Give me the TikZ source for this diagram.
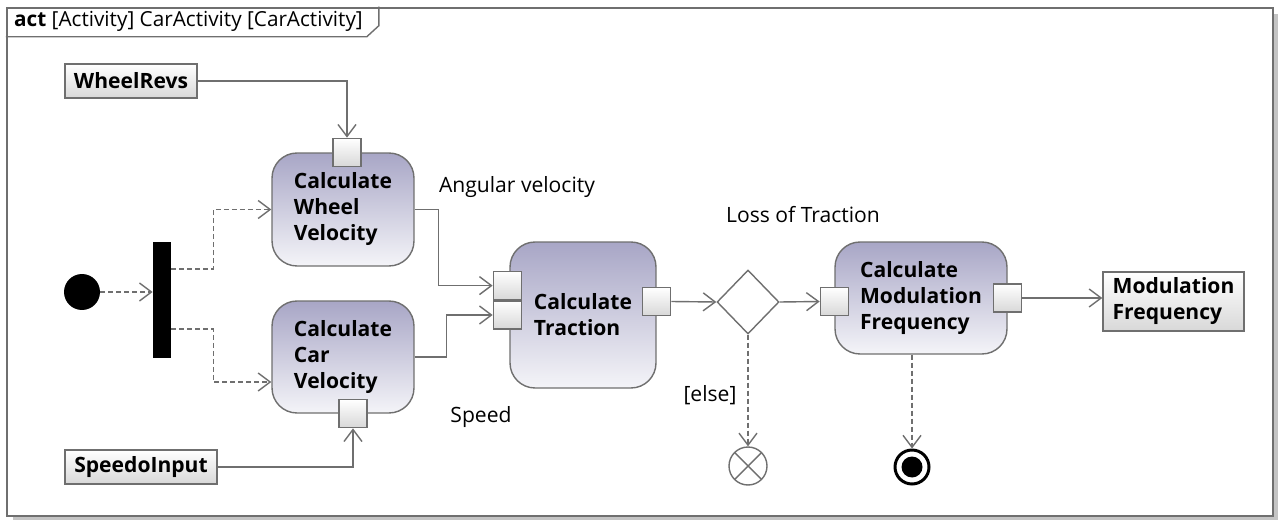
\documentclass[tikz,border=0pt]{standalone}
\usepackage{fontspec}
\setmainfont{Open Sans}
\usetikzlibrary{positioning, arrows.meta, shapes.geometric, calc}

\definecolor{linegray}{HTML}{6F6F6F}
\definecolor{acttop}{HTML}{A8A6C6}
\definecolor{actbot}{HTML}{F4F4F8}
\definecolor{pinbot}{HTML}{D8D8D8}
\definecolor{shadowgray}{HTML}{C4C4C4}

\begin{document}
\begin{tikzpicture}[
  x=0.02cm, y=-0.02cm,
  action/.style={draw=linegray, line width=0.8pt, rounded corners=0.5cm,
                 top color=acttop, bottom color=actbot, inner sep=0pt,
                 font=\fontsize{12}{14.8}\selectfont\bfseries, align=left},
  pinbox/.style={draw=linegray, line width=0.8pt, top color=white,
                 bottom color=pinbot, minimum size=0.56cm, inner sep=0pt},
  objbox/.style={draw=linegray, line width=0.8pt, top color=white,
                 bottom color=pinbot, inner sep=0pt, align=left,
                 font=\fontsize{12}{14.8}\selectfont\bfseries},
  lbl/.style={font=\fontsize{12}{14.8}\selectfont, inner sep=1pt},
  flow/.style={-{Straight Barb[length=2.4mm, width=3.6mm]}, draw=linegray,
               line width=0.8pt},
  ctrl/.style={flow, dash pattern=on 0.1cm off 0.06cm}
]

\useasboundingbox (0,0) rectangle (1280,520);

% Frame
\fill[shadowgray] (13,14) rectangle (1278,520);
\node[draw=linegray, line width=1.5pt, fill=white, minimum width=25.32cm,
      minimum height=10.16cm, inner sep=0pt] (frame) at (640,262) {};
\draw[linegray, line width=0.8pt] ($(frame.north west)+(0,30)$) -- ++(361,0)
  -- ++(12,-11) -- ($(frame.north west)+(373,0)$);
\node[anchor=west, font=\fontsize{11.8}{13}\selectfont, inner sep=0pt]
  (title) at ($(frame.north west)+(8,15)$)
  {\textbf{act} [Activity] CarActivity [CarActivity]};

% Start and fork
\node[circle, fill=black, minimum size=0.72cm, inner sep=0pt] (init) at (82,292) {};
\node[fill=black, minimum width=0.36cm, minimum height=2.32cm, inner sep=0pt]
  (fork) at (162,300) {};

% Inputs
\node[objbox, minimum width=2.64cm, minimum height=0.68cm] (wheelrevs)
  at (131,81) {WheelRevs};
\node[objbox, minimum width=3.04cm, minimum height=0.68cm] (speedo)
  at (141,467) {SpeedoInput};

% Actions
\node[action, minimum width=2.84cm, minimum height=2.26cm] (cwv)
  at (343,209.5) {Calculate\\Wheel\\Velocity};
\node[action, minimum width=2.84cm, minimum height=2.24cm] (ccv)
  at (343,357) {Calculate\\Car\\Velocity};
\node[action, minimum width=2.92cm, minimum height=2.92cm] (ct)
  at (583,315) {Calculate\\Traction};
\node[action, minimum width=3.44cm, minimum height=2.24cm] (cmf)
  at (921,298) {Calculate\\Modulation\\Frequency};

% Pins
\node[pinbox] (pinwr) at ([xshift=0.08cm]cwv.north) {};
\node[pinbox] (pinsp) at ([xshift=0.2cm]ccv.south) {};
\node[pinbox] (pinct2) at ([xshift=-0.04cm]ct.west) {};
\node[pinbox, above=0cm of pinct2] (pinct1) {};
\node[pinbox] (pinct3) at ([yshift=0.27cm]ct.east) {};
\node[pinbox] (pincmf1) at ([yshift=-0.07cm]cmf.west) {};
\node[pinbox] (pincmf2) at (cmf.east) {};

% Decision and output
\node[diamond, draw=linegray, line width=0.8pt, fill=white, minimum width=1.24cm,
      minimum height=1.28cm, inner sep=0pt] (dec) at (748,302) {};
\node[objbox, minimum width=2.82cm, minimum height=1.18cm] (modfreq)
  at (1173.5,301.5) {Modulation\\Frequency};

% Final nodes
\node[circle, draw=linegray, line width=0.8pt, fill=white, minimum size=0.76cm,
      inner sep=0pt, path picture={
        \draw[linegray, line width=0.8pt] (path picture bounding box.north west)
          -- (path picture bounding box.south east)
          (path picture bounding box.north east)
          -- (path picture bounding box.south west);}]
  (flowfinal) at (748,466) {};
\node[circle, draw=black, line width=1.7pt, fill=white, minimum size=0.68cm,
      inner sep=0pt, path picture={
        \fill[black] (path picture bounding box.center) circle (0.21cm);}]
  (final) at (912,467) {};

% Labels
\node[lbl] (angvel) at (517,187) {Angular velocity};
\node[lbl] (speed) at (481,417) {Speed};
\node[lbl] (loss) at (803,215) {Loss of Traction};
\node[lbl] (else) at (710,395) {[else]};

% Arrows
\draw[ctrl] (init.east) -- (init.east -| fork.west);
\draw[ctrl] ($(fork.east)+(0,-31)$) -- ++(42,0) |- (cwv.west);
\draw[ctrl] ($(fork.east)+(0,29)$) -- ++(42,0) |- ($(ccv.west)+(0,25)$);
\draw[flow] (wheelrevs.east) -| (pinwr.north);
\draw[flow] (speedo.east) -| (pinsp.south);
\draw[flow] (cwv.east) -- ++(24,0) |- (pinct1.west);
\draw[flow] (ccv.east) -- ++(32,0) |- (pinct2.west);
\draw[flow] (pinct3.east) -- (dec.west);
\draw[flow] (dec.east) -- (pincmf1.west);
\draw[flow] (pincmf2.east) -- (pincmf2.east -| modfreq.west);
\draw[ctrl] (dec.south) -- (flowfinal.north);
\draw[ctrl] (final.north |- cmf.south) -- (final.north);

\end{tikzpicture}
\end{document}
